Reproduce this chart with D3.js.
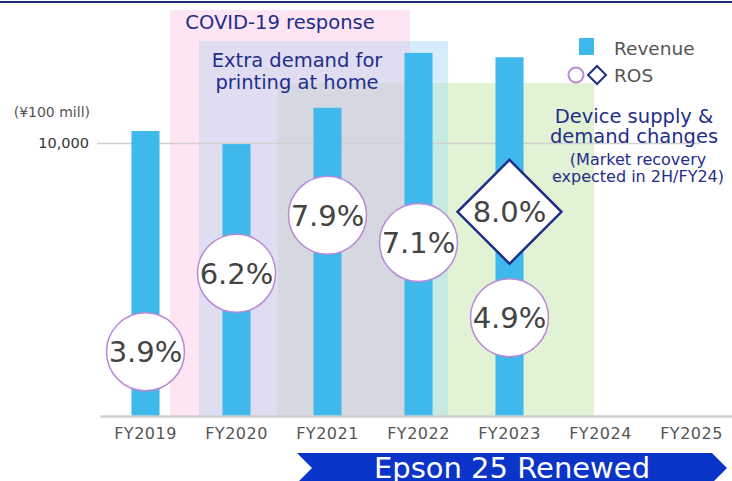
<!DOCTYPE html>
<html>
<head>
<meta charset="utf-8">
<script src="https://cdn.jsdelivr.net/npm/d3@7"></script>
<style>
    body { margin: 0; background: #fff; }
    svg { display: block; font-family: "DejaVu Sans", Verdana, sans-serif; }
</style>
</head>
<body>
<svg width="732" height="481"></svg>
<script>
// data
const years = ["FY2019", "FY2020", "FY2021", "FY2022", "FY2023", "FY2024", "FY2025"];
const revenueYears = ["FY2019", "FY2020", "FY2021", "FY2022", "FY2023"];
const revenue = [10440, 9960, 11290, 13300, 13140]; // ¥100 mill
const rosValues = [3.9, 6.2, 7.9, 7.1, 4.9]; // %
const rosTargetYears = ["FY2023"];
const rosTargetValues = [8.0];
const yTicks = [10000];

const colors = {
    bar: "#3fb8ec",
    navy: "#1f2e8a",
    purple: "#b98ad6",
    label: "#555",
    grid: "#d0d0d0"
};

const svg = d3.select("svg");
const width = +svg.attr("width");

const x = d3.scaleBand()
    .domain(years)
    .range([100, 737])
    .paddingInner(0.692)
    .paddingOuter(0.346);

// category index -> centre of its band, used for the background boxes
const xi = d3.scaleLinear()
    .domain([0, 1])
    .range([x(years[0]) + x.bandwidth() / 2, x(years[1]) + x.bandwidth() / 2]);

const y = d3.scaleLinear().domain([0, 10000]).range([416, 143]);
const yRos = d3.scaleLinear().domain([0, 10]).range([485, 143.5]);

// top rule
svg.append("line")
    .attr("x1", 0).attr("x2", width)
    .attr("y1", 2).attr("y2", 2)
    .attr("stroke", "#1d2b7e")
    .attr("stroke-width", 2);

// background phases (x in category index units)
const pink = { x0: xi.invert(170), x1: xi.invert(410), top: 10, fill: "#fde5f3" };
const blue = { x0: xi.invert(199), x1: xi.invert(448), top: 41, fill: "#d6edfb" };
const green = { x0: xi.invert(278), x1: xi.invert(594), top: 83, fill: "#e2f2d5" };

function overlap(a, b, fill) {
    return { x0: Math.max(a.x0, b.x0), x1: Math.min(a.x1, b.x1), top: Math.max(a.top, b.top), fill };
}

const boxes = [
    pink,
    blue,
    overlap(pink, blue, "#e0ddf3"),
    green,
    overlap(blue, green, "#c6e9e1"),
    overlap(overlap(pink, blue), green, "#d5d8e1")
];

svg.append("g")
    .selectAll("rect")
    .data(boxes)
    .enter().append("rect")
    .attr("x", d => xi(d.x0))
    .attr("width", d => xi(d.x1) - xi(d.x0))
    .attr("y", d => d.top)
    .attr("height", d => y(0) - d.top)
    .attr("fill", d => d.fill);

// y axis with the single gridline
const yAxis = svg.append("g")
    .attr("transform", "translate(97,0)")
    .call(d3.axisLeft(y)
        .tickValues(yTicks)
        .tickSize(-603)
        .tickPadding(8)
        .tickFormat(d3.format(",")));
yAxis.select(".domain").remove();
yAxis.selectAll("line").attr("stroke", colors.grid).attr("stroke-width", 1.5);
yAxis.selectAll("text")
    .attr("font-size", 14.5)
    .attr("font-family", "DejaVu Sans")
    .attr("fill", "#333");

svg.append("text")
    .attr("x", 90)
    .attr("y", 117)
    .attr("text-anchor", "end")
    .attr("font-size", 14)
    .attr("fill", colors.label)
    .text("(¥100 mill)");

// revenue bars
svg.append("g")
    .selectAll("rect")
    .data(revenue)
    .enter().append("rect")
    .attr("x", (d, i) => x(revenueYears[i]))
    .attr("width", x.bandwidth())
    .attr("y", d => y(d))
    .attr("height", d => y(0) - y(d))
    .attr("fill", colors.bar);

// x axis
const xAxis = svg.append("g")
    .attr("transform", `translate(0,${y(0)})`)
    .call(d3.axisBottom(x).tickSize(0).tickPadding(12));
xAxis.select(".domain")
    .attr("stroke", colors.grid)
    .attr("stroke-width", 2.5);
xAxis.selectAll("text")
    .attr("font-size", 16)
    .attr("font-family", "DejaVu Sans")
    .attr("letter-spacing", "0.5px")
    .attr("fill", colors.label);

// phase captions
const captions = [
    { lines: ["COVID-19 response"], cx: 280, y: 29, size: 19.5, lh: 0 },
    { lines: ["Extra demand for", "printing at home"], cx: 297, y: 67, size: 19.5, lh: 22 },
    { lines: ["Device supply &", "demand changes"], cx: 634, y: 123, size: 19.5, lh: 19.5 },
    { lines: ["(Market recovery", "expected in 2H/FY24)"], cx: 638, y: 165, size: 16, lh: 16.5 }
];
captions.forEach(c => {
    svg.append("text")
        .attr("text-anchor", "middle")
        .attr("font-size", c.size)
        .attr("fill", colors.navy)
        .selectAll("tspan")
        .data(c.lines)
        .enter().append("tspan")
        .attr("x", c.cx)
        .attr("y", (d, i) => c.y + i * c.lh)
        .text(d => d);
});

// ROS circles
const ros = svg.append("g")
    .selectAll("g")
    .data(rosValues)
    .enter().append("g")
    .attr("transform", (d, i) => `translate(${x(revenueYears[i]) + x.bandwidth() / 2},${yRos(d)})`);
ros.append("circle")
    .attr("r", 39)
    .attr("fill", "#fff")
    .attr("stroke", colors.purple)
    .attr("stroke-width", 1.5);
ros.append("text")
    .attr("text-anchor", "middle")
    .attr("dy", "0.36em")
    .attr("font-size", 29)
    .attr("fill", "#444")
    .text(d => d.toFixed(1) + "%");

// ROS target diamond
const target = svg.append("g")
    .selectAll("g")
    .data(rosTargetValues)
    .enter().append("g")
    .attr("transform", (d, i) => `translate(${x(rosTargetYears[i]) + x.bandwidth() / 2},${yRos(d)})`);
target.append("path")
    .attr("d", "M0,-52L52,0L0,52L-52,0Z")
    .attr("fill", "#fff")
    .attr("stroke", colors.navy)
    .attr("stroke-width", 2.5);
target.append("text")
    .attr("text-anchor", "middle")
    .attr("dy", "0.36em")
    .attr("font-size", 29)
    .attr("fill", "#444")
    .text(d => d.toFixed(1) + "%");

// legend
const legend = svg.append("g");
legend.append("rect")
    .attr("x", 579).attr("y", 38)
    .attr("width", 15).attr("height", 17)
    .attr("fill", colors.bar);
legend.append("text")
    .attr("x", 614).attr("y", 55)
    .attr("font-size", 18.5)
    .attr("fill", colors.label)
    .text("Revenue");
legend.append("circle")
    .attr("cx", 576).attr("cy", 75).attr("r", 7.5)
    .attr("fill", "#fff")
    .attr("stroke", colors.purple)
    .attr("stroke-width", 2);
legend.append("path")
    .attr("d", "M597,66L606,75L597,84L588,75Z")
    .attr("fill", "#fff")
    .attr("stroke", colors.navy)
    .attr("stroke-width", 2);
legend.append("text")
    .attr("x", 614).attr("y", 82)
    .attr("font-size", 18.5)
    .attr("fill", colors.label)
    .text("ROS");

// mid-term plan arrow
svg.append("path")
    .attr("d", "M297,453L712,453L727,468L712,483L297,483L312,468Z")
    .attr("fill", "#0a35c8");
svg.append("text")
    .attr("x", 512).attr("y", 478)
    .attr("text-anchor", "middle")
    .attr("font-size", 29)
    .attr("fill", "#fff")
    .text("Epson 25 Renewed");
</script>
</body>
</html>
